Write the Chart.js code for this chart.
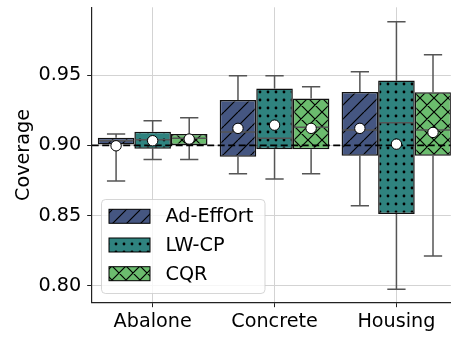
<!DOCTYPE html>
<html>
<head>
<meta charset="utf-8">
<script src="https://cdn.jsdelivr.net/npm/chart.js@4.4.0/dist/chart.umd.min.js"></script>
<style>
  html, body { margin:0; padding:0; background:#fff; overflow:hidden; }
</style>
</head>
<body>
<canvas id="chart" width="457" height="337"></canvas>
<script>
// ---- data ----
const groups  = ['Abalone', 'Concrete', 'Housing'];
const methods = ['Ad-EffOrt', 'LW-CP', 'CQR'];
// one row per method, one value per group
const whiskLo = [[0.8746, 0.8798, 0.8570], [0.8900, 0.8760, 0.7976], [0.8900, 0.8798, 0.8213]];
const q1      = [[0.9007, 0.8919, 0.8926], [0.8976, 0.8972, 0.8511], [0.9002, 0.8972, 0.8926]];
const medians = [[0.9032, 0.9095, 0.9109], [0.9040, 0.9050, 0.9161], [0.9050, 0.9128, 0.9109]];
const q3      = [[0.9054, 0.9322, 0.9379], [0.9097, 0.9405, 0.9462], [0.9080, 0.9334, 0.9377]];
const whiskHi = [[0.9080, 0.9495, 0.9523], [0.9175, 0.9495, 0.9879], [0.9196, 0.9417, 0.9644]];
const means   = [[0.8997, 0.9121, 0.9121], [0.9033, 0.9144, 0.9009], [0.9045, 0.9121, 0.9092]];
const target  = 0.9;
const yTicks  = [0.80, 0.85, 0.90, 0.95];

const colors  = ['#455681', '#2f837f', '#6bbc6e'];
const hatches = ['diag', 'dots', 'cross'];
const FONT = '"DejaVu Sans", sans-serif';
const FS = 19.2;

// hatch fill as a repeating canvas pattern
function hatch(color, kind) {
  const s = kind === 'dots' ? 8 : 14;
  const t = document.createElement('canvas');
  t.width = s; t.height = s;
  const g = t.getContext('2d');
  g.fillStyle = color; g.fillRect(0, 0, s, s);
  g.strokeStyle = '#000'; g.fillStyle = '#000'; g.lineWidth = 1.2;
  if (kind === 'dots') {
    g.beginPath(); g.arc(s / 2, s / 2, 1.4, 0, Math.PI * 2); g.fill();
  } else {
    g.beginPath();
    for (const k of [-s, 0, s]) { g.moveTo(k, s); g.lineTo(k + s, 0); }
    if (kind === 'cross') for (const k of [-s, 0, s]) { g.moveTo(k, 0); g.lineTo(k + s, s); }
    g.stroke();
  }
  return g.createPattern(t, 'repeat');
}
const fills = methods.map((_, i) => hatch(colors[i], hatches[i]));

const X_MAX = 2.446;   // the reference is cut off on the right

// whiskers, caps and medians from the bar elements + y scale
const boxParts = {
  id: 'boxParts',
  beforeDatasetsDraw(chart) {
    const ctx = chart.ctx, y = chart.scales.y;
    ctx.save();
    ctx.strokeStyle = '#555'; ctx.lineWidth = 1.5;
    methods.forEach((_, m) => {
      chart.getDatasetMeta(m).data.forEach((el, j) => {
        const x = el.x, c = el.width / 4;
        const lo = y.getPixelForValue(whiskLo[m][j]), hi = y.getPixelForValue(whiskHi[m][j]);
        const b = y.getPixelForValue(q1[m][j]), t = y.getPixelForValue(q3[m][j]);
        ctx.beginPath();
        ctx.moveTo(x, t); ctx.lineTo(x, hi);
        ctx.moveTo(x, b); ctx.lineTo(x, lo);
        ctx.moveTo(x - c, hi); ctx.lineTo(x + c, hi);
        ctx.moveTo(x - c, lo); ctx.lineTo(x + c, lo);
        ctx.stroke();
      });
    });
    ctx.restore();
  },
  afterDatasetDraw(chart, args) {
    const m = args.index;
    if (m >= methods.length) return;
    const ctx = chart.ctx, y = chart.scales.y;
    ctx.save();
    ctx.strokeStyle = '#555'; ctx.lineWidth = 1.5;
    args.meta.data.forEach((el, j) => {
      const py = y.getPixelForValue(medians[m][j]);
      ctx.beginPath();
      ctx.moveTo(el.x - el.width / 2 + 1, py); ctx.lineTo(el.x + el.width / 2 - 1, py);
      ctx.stroke();
    });
    ctx.restore();
  }
};

// legend in the lower left of the plot
const boxLegend = {
  id: 'boxLegend',
  afterDraw(chart) {
    const ctx = chart.ctx;
    ctx.save();
    ctx.beginPath();
    ctx.roundRect(101.5, 199.5, 163.5, 94, 4);
    ctx.fillStyle = 'rgba(255,255,255,0.8)'; ctx.fill();
    ctx.strokeStyle = 'rgba(204,204,204,0.8)'; ctx.lineWidth = 1; ctx.stroke();
    ctx.font = `${FS}px ${FONT}`;
    ctx.textBaseline = 'middle';
    methods.forEach((name, i) => {
      const cy = 216.3 + i * 28.7;
      ctx.fillStyle = fills[i];
      ctx.fillRect(109, cy - 7, 41, 14);
      ctx.strokeStyle = '#000'; ctx.lineWidth = 1;
      ctx.strokeRect(109, cy - 7, 41, 14);
      ctx.fillStyle = '#000';
      ctx.fillText(name, 165.5, cy + 1);
    });
    ctx.restore();
  }
};

const boxSets = methods.map((name, m) => ({
  type: 'bar',
  label: name,
  data: groups.map((_, j) => ({ x: j, y: [q1[m][j], q3[m][j]] })),
  backgroundColor: fills[m],
  borderColor: '#111',
  borderWidth: 1.5,
  borderSkipped: false,
  categoryPercentage: 0.9,
  barPercentage: 1.0,
  order: 3
}));

new Chart(document.getElementById('chart'), {
  type: 'bar',
  data: {
    datasets: [
      ...boxSets,
      {
        type: 'line', label: 'target',
        data: [{ x: -0.5, y: target }, { x: X_MAX, y: target }],
        borderColor: '#000', borderWidth: 1.8, borderDash: [7, 3.5],
        pointRadius: 0, order: 2
      },
      {
        type: 'scatter', label: 'mean',
        data: methods.flatMap((_, m) => groups.map((_, j) => ({ x: j + (m - 1) * 0.3, y: means[m][j] }))),
        backgroundColor: '#fff', borderColor: '#000', borderWidth: 1,
        pointRadius: 5.2, pointHoverRadius: 5.2, order: 1
      }
    ]
  },
  options: {
    responsive: false,
    animation: false,
    devicePixelRatio: 1,
    layout: { padding: { top: 7.3, right: 0, bottom: 0, left: 0 } },
    plugins: { legend: { display: false }, tooltip: { enabled: false } },
    scales: {
      x: {
        type: 'linear', min: -0.5, max: X_MAX, offset: false,
        afterBuildTicks(s) { s.ticks = groups.map((_, j) => ({ value: j })); },
        afterFit(s) { s.height = 34.3; s.paddingLeft = 0; s.paddingRight = 0; },
        ticks: { callback: v => groups[v], color: '#000', font: { family: FONT, size: FS }, padding: 3, maxRotation: 0, autoSkip: false },
        grid: { color: '#d3d3d3', lineWidth: 1, offset: false, tickColor: '#222', tickLength: 4.5 },
        border: { color: '#222', width: 1.2 }
      },
      y: {
        min: 0.7881, max: 0.9982,
        afterBuildTicks(s) { s.ticks = yTicks.map(v => ({ value: v })); },
        afterFit(s) { s.width = 91.7; s.paddingTop = 0; s.paddingBottom = 0; },
        ticks: { callback: v => v.toFixed(2), color: '#000', font: { family: FONT, size: FS }, padding: 6 },
        grid: { color: '#d3d3d3', lineWidth: 1, tickColor: '#222', tickLength: 4.5 },
        border: { color: '#222', width: 1.2 },
        title: { display: true, text: 'Coverage', color: '#000', font: { family: FONT, size: FS }, padding: { top: 12, bottom: 0 } }
      }
    }
  },
  plugins: [boxParts, boxLegend]
});
</script>
</body>
</html>
